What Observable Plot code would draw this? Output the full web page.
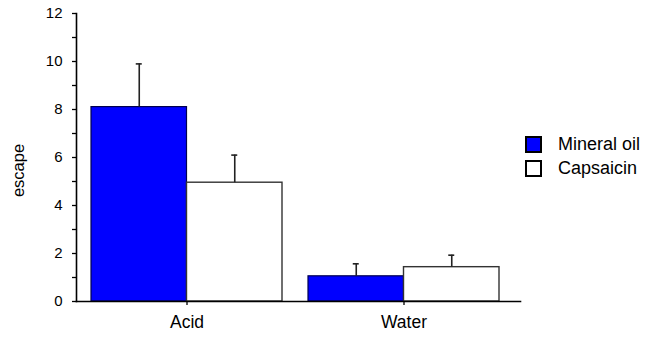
<!DOCTYPE html>
<html>
<head>
<meta charset="utf-8">
<script src="https://cdn.jsdelivr.net/npm/d3@7"></script>
<script src="https://cdn.jsdelivr.net/npm/@observablehq/plot@0.6"></script>
<style>
  html, body { margin: 0; padding: 0; background: #fff; }
  #wrap { position: relative; width: 647px; height: 340px; font-family: "Liberation Sans", Arial, sans-serif; }
  #wrap g[aria-label="y-axis tick label"] { font-size: 15px; }
  #wrap g[aria-label="x-axis tick label"] { font-size: 17.5px; }
  .legend { position: absolute; left: 525px; top: 132px; font-size: 18px; color: #000; white-space: nowrap; }
  .legend .row { display: flex; align-items: center; height: 24px; }
  .legend .sw { width: 13px; height: 13px; border: 2px solid #000; margin-right: 16px; }
</style>
</head>
<body>
<div id="wrap"></div>
<script>
const categories = ["Acid", "Water"];
const series = ["Mineral oil", "Capsaicin"];
const mineralOil = [8.1, 1.05];
const mineralOilErr = [1.8, 0.52];
const capsaicin = [4.95, 1.43];
const capsaicinErr = [1.15, 0.5];
const yTicks = [0, 2, 4, 6, 8, 10, 12];
const yMinorTicks = [1, 3, 5, 7, 9, 11];

const colors = {"Mineral oil": "#0000ff", "Capsaicin": "#ffffff"};
const strokes = {"Mineral oil": "#000050", "Capsaicin": "#333333"};

const rows = [];
categories.forEach((c, i) => {
  rows.push({cat: c, series: "Mineral oil", value: mineralOil[i], err: mineralOilErr[i]});
  rows.push({cat: c, series: "Capsaicin", value: capsaicin[i], err: capsaicinErr[i]});
});
const mo = rows.filter(d => d.series === "Mineral oil");
const ca = rows.filter(d => d.series === "Capsaicin");

const bw = 191;       // band width in px (from layout)
const half = bw / 2;
const q = bw / 4;
const cap = 3;

const plot = Plot.plot({
  width: 647,
  height: 340,
  marginLeft: 76,
  marginRight: 127,
  marginTop: 13,
  marginBottom: 39,
  style: {fontFamily: "Liberation Sans, Arial, sans-serif", fontSize: "14px", color: "#000", background: "#fff"},
  x: {domain: categories, paddingInner: 0.12, paddingOuter: 0.083, align: 0.42},
  y: {domain: [0, 12]},
  marks: [
    Plot.barY(mo, {x: "cat", y: "value", fill: colors["Mineral oil"], stroke: strokes["Mineral oil"], strokeWidth: 1.2, insetRight: half}),
    Plot.barY(ca, {x: "cat", y: "value", fill: colors["Capsaicin"], stroke: strokes["Capsaicin"], strokeWidth: 1.4, insetLeft: half}),
    Plot.ruleX(mo, {x: "cat", y1: "value", y2: d => d.value + d.err, dx: -q, stroke: "#222", strokeWidth: 1.6}),
    Plot.ruleX(ca, {x: "cat", y1: "value", y2: d => d.value + d.err, dx: q, stroke: "#222", strokeWidth: 1.6}),
    Plot.tickY(mo, {x: "cat", y: d => d.value + d.err, insetLeft: q - cap, insetRight: bw - q - cap, stroke: "#222", strokeWidth: 1.6}),
    Plot.tickY(ca, {x: "cat", y: d => d.value + d.err, insetLeft: bw - q - cap, insetRight: q - cap, stroke: "#222", strokeWidth: 1.6}),
    Plot.axisY({ticks: yTicks, tickSize: 4, tickPadding: 10, fontSize: 15, label: null, stroke: "#000", strokeWidth: 1.3}),
    Plot.axisY({ticks: yMinorTicks, tickSize: 4, tickFormat: () => "", label: null, stroke: "#000", strokeWidth: 1.3}),
    Plot.axisX({tickSize: 4, tickPadding: 10, fontSize: 17.5, label: null, stroke: "#000", strokeWidth: 1.3}),
    Plot.frame({anchor: "left", stroke: "#000", strokeWidth: 1.6}),
    Plot.frame({anchor: "bottom", stroke: "#000", strokeWidth: 1.6}),
    Plot.text(["escape"], {frameAnchor: "left", textAnchor: "middle", dx: -58, dy: 13, rotate: -90, fontSize: 16.5, fill: "#000"})
  ]
});

const wrap = document.getElementById("wrap");
wrap.appendChild(plot);
const leg = document.createElement("div");
leg.className = "legend";
series.forEach(s => {
  const r = document.createElement("div");
  r.className = "row";
  const sw = document.createElement("div");
  sw.className = "sw";
  sw.style.background = colors[s];
  const t = document.createElement("span");
  t.textContent = s;
  r.appendChild(sw); r.appendChild(t);
  leg.appendChild(r);
});
wrap.appendChild(leg);
</script>
</body>
</html>
